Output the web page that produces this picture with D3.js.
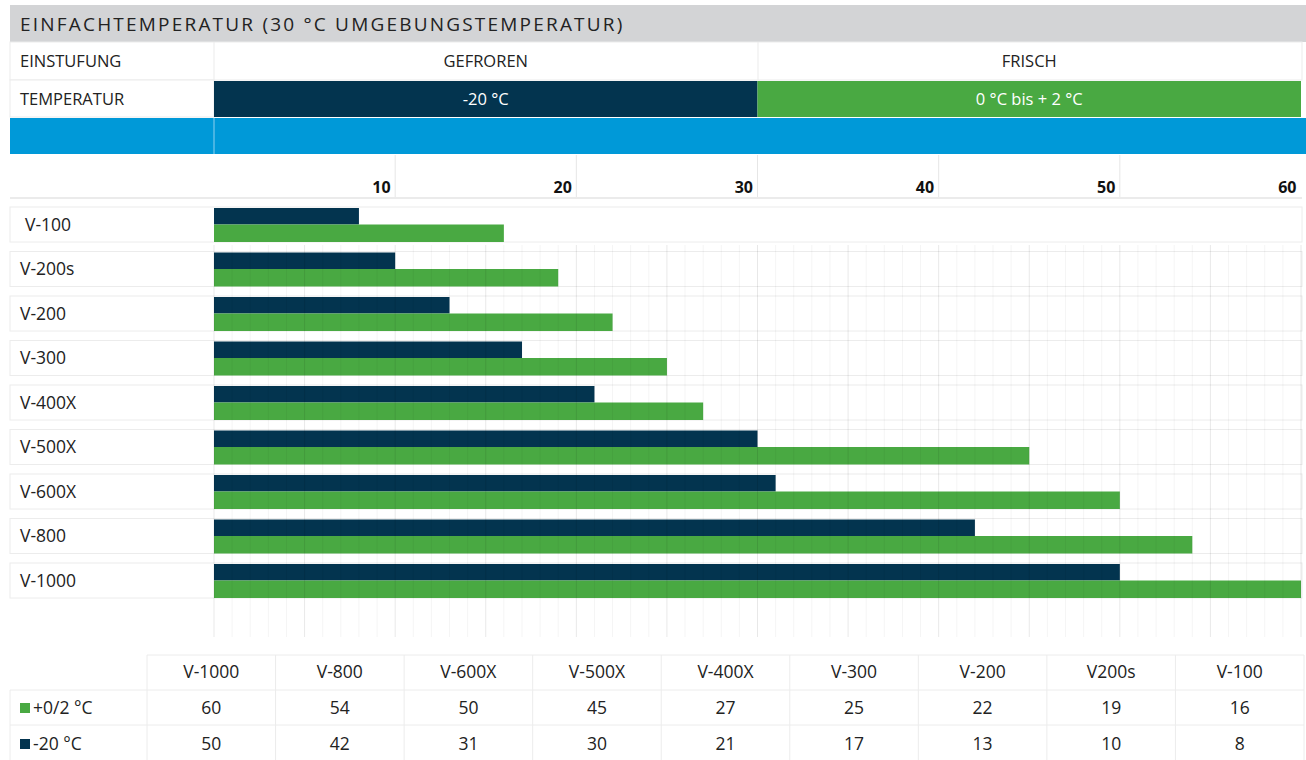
<!DOCTYPE html>
<html>
<head>
<meta charset="utf-8">
<script src="https://cdn.jsdelivr.net/npm/d3@7"></script>
<style>
  body { margin: 0; background: #fff; }
  svg text { font-family: "Open Sans", sans-serif; }
</style>
</head>
<body>
<script>
// data
const categories = ["V-100", "V-200s", "V-200", "V-300", "V-400X", "V-500X", "V-600X", "V-800", "V-1000"];
const freshValues = [16, 19, 22, 25, 27, 45, 50, 54, 60];   // +0/2 °C
const frozenValues = [8, 10, 13, 17, 21, 30, 31, 42, 50];   // -20 °C
const tableLabels = ["V-1000", "V-800", "V-600X", "V-500X", "V-400X", "V-300", "V-200", "V200s", "V-100"];
const tickValues = [10, 20, 30, 40, 50, 60];
const seriesNames = ["+0/2 °C", "-20 °C"];

const navy = "#03344f", green = "#49a942", blue = "#0099d8", gray = "#d3d4d6", line = "#ebebeb";

const svg = d3.select("body").append("svg")
  .attr("width", 1306)
  .attr("height", 760);

const x = d3.scaleLinear().domain([0, 60]).range([214, 1301]);

// ---- header table
svg.append("rect").attr("x", 10).attr("y", 5).attr("width", 1296).attr("height", 37).attr("fill", gray);
svg.append("text")
  .attr("x", 20).attr("y", 31)
  .attr("font-size", "19px").attr("letter-spacing", "2.2px").attr("fill", "#222")
  .text("EINFACHTEMPERATUR (30 °C UMGEBUNGSTEMPERATUR)");

// EINSTUFUNG row
svg.append("rect").attr("x", 10).attr("y", 42).attr("width", 1292).attr("height", 38)
  .attr("fill", "#fff").attr("stroke", line);
[214, 758].forEach(v => {
  svg.append("line").attr("x1", v).attr("x2", v).attr("y1", 42).attr("y2", 80).attr("stroke", line);
});
const hf = "16.5px";
svg.append("text").attr("x", 20).attr("y", 67).attr("font-size", hf).attr("fill", "#222").text("EINSTUFUNG");
svg.append("text").attr("x", x(15)).attr("y", 67).attr("text-anchor", "middle").attr("font-size", hf).attr("fill", "#222").text("GEFROREN");
svg.append("text").attr("x", x(45)).attr("y", 67).attr("text-anchor", "middle").attr("font-size", hf).attr("fill", "#222").text("FRISCH");

// TEMPERATUR row
svg.append("rect").attr("x", 10).attr("y", 80).attr("width", 204).attr("height", 37).attr("fill", "#fff").attr("stroke", line);
svg.append("text").attr("x", 20).attr("y", 105).attr("font-size", hf).attr("fill", "#222").text("TEMPERATUR");
svg.append("rect").attr("x", x(0)).attr("y", 81).attr("width", x(30) - x(0)).attr("height", 36).attr("fill", navy);
svg.append("rect").attr("x", x(30)).attr("y", 81).attr("width", x(60) - x(30)).attr("height", 36).attr("fill", green);
svg.append("text").attr("x", x(15)).attr("y", 105).attr("text-anchor", "middle").attr("font-size", hf).attr("fill", "#fff").text("-20 °C");
svg.append("text").attr("x", x(45)).attr("y", 105).attr("text-anchor", "middle").attr("font-size", hf).attr("fill", "#fff").text("0 °C bis + 2 °C");

// blue band
svg.append("rect").attr("x", 10).attr("y", 118).attr("width", 1296).attr("height", 36).attr("fill", blue);
svg.append("line").attr("x1", 214).attr("x2", 214).attr("y1", 118).attr("y2", 154).attr("stroke", "#8fd0ee");

// ---- axis row
svg.append("line").attr("x1", 10).attr("x2", 1302).attr("y1", 198).attr("y2", 198).attr("stroke", line).attr("stroke-width", 2);
svg.selectAll(".axv").data(tickValues.filter(d => d < 60)).enter().append("line")
  .attr("x1", d => x(d)).attr("x2", d => x(d))
  .attr("y1", 155).attr("y2", 197)
  .attr("stroke", "#e6e6e6");

const axis = svg.append("g")
  .attr("transform", "translate(0,193)")
  .call(d3.axisTop(x).tickValues(tickValues).tickSize(0).tickPadding(0));
axis.select(".domain").remove();
axis.selectAll("text")
  .attr("text-anchor", "end")
  .attr("dx", -5)
  .attr("dy", 0)
  .attr("font-family", "DejaVu Sans")
  .attr("font-weight", "bold")
  .attr("font-size", "16px")
  .attr("fill", "#111");

// ---- bars
const y = d3.scaleBand().domain(categories).range([207, 598]).paddingInner(9.5 / 44.5);
const sub = d3.scaleBand().domain(["frozen", "fresh"]).range([0, y.bandwidth()]);

// row boxes
svg.selectAll(".rowbox").data(categories).enter().append("rect")
  .attr("x", 10).attr("y", d => y(d))
  .attr("width", 1292).attr("height", y.bandwidth())
  .attr("fill", "#fff").attr("stroke", "#ececec");

svg.selectAll(".rowlabel").data(categories).enter().append("text")
  .attr("x", (d, i) => i === 0 ? 25 : 20)
  .attr("y", d => y(d) + y.bandwidth() / 2 + 6)
  .attr("font-size", "17.5px").attr("fill", "#222")
  .text(d => d);

svg.selectAll(".bfrozen").data(frozenValues).enter().append("rect")
  .attr("x", x(0))
  .attr("y", (d, i) => y(categories[i]) + sub("frozen") + 1)
  .attr("width", d => x(d) - x(0))
  .attr("height", sub.bandwidth() - 1)
  .attr("fill", navy);

svg.selectAll(".bfresh").data(freshValues).enter().append("rect")
  .attr("x", x(0))
  .attr("y", (d, i) => y(categories[i]) + sub("fresh"))
  .attr("width", d => x(d) - x(0))
  .attr("height", sub.bandwidth())
  .attr("fill", green);

// grid on top, faint
svg.selectAll(".grid").data(d3.range(0, 61)).enter().append("line")
  .attr("x1", d => x(d)).attr("x2", d => x(d))
  .attr("y1", 245).attr("y2", 637)
  .attr("stroke", d => d % 5 === 0 ? "rgba(0,0,0,0.09)" : "rgba(0,0,0,0.045)");

// ---- bottom table
const col = d3.scaleBand().domain(tableLabels).range([147, 1304]);
const rowsY = [655, 690, 725, 760];
const tcolor = "#ececec";

svg.append("line").attr("x1", 147).attr("x2", 1304).attr("y1", rowsY[0]).attr("y2", rowsY[0]).attr("stroke", tcolor);
[1, 2].forEach(r => {
  svg.append("line").attr("x1", 10).attr("x2", 1304).attr("y1", rowsY[r]).attr("y2", rowsY[r]).attr("stroke", tcolor);
});
svg.append("line").attr("x1", 10).attr("x2", 10).attr("y1", rowsY[1]).attr("y2", 760).attr("stroke", tcolor);
svg.selectAll(".tcol").data(tableLabels).enter().append("line")
  .attr("x1", d => col(d)).attr("x2", d => col(d))
  .attr("y1", rowsY[0]).attr("y2", 760).attr("stroke", tcolor);
svg.append("line").attr("x1", 1304).attr("x2", 1304).attr("y1", rowsY[0]).attr("y2", 760).attr("stroke", tcolor);

const tf = "17.5px";
const cx = d => col(d) + col.bandwidth() / 2;
svg.selectAll(".thead").data(tableLabels).enter().append("text")
  .attr("x", cx).attr("y", 678).attr("text-anchor", "middle")
  .attr("font-size", tf).attr("fill", "#222").text(d => d);

const freshRev = freshValues.slice().reverse();
const frozenRev = frozenValues.slice().reverse();
svg.selectAll(".tfresh").data(freshRev).enter().append("text")
  .attr("x", (d, i) => cx(tableLabels[i])).attr("y", 714).attr("text-anchor", "middle")
  .attr("font-size", tf).attr("fill", "#222").text(d => d);
svg.selectAll(".tfrozen").data(frozenRev).enter().append("text")
  .attr("x", (d, i) => cx(tableLabels[i])).attr("y", 750).attr("text-anchor", "middle")
  .attr("font-size", tf).attr("fill", "#222").text(d => d);

// legend cells
const legendColors = [green, navy];
seriesNames.forEach((name, i) => {
  svg.append("rect").attr("x", 20).attr("y", 703 + i * 36).attr("width", 10).attr("height", 10).attr("fill", legendColors[i]);
  svg.append("text").attr("x", 33).attr("y", 714 + i * 36)
    .attr("font-size", tf).attr("fill", "#222").text(name);
});
</script>
</body>
</html>
